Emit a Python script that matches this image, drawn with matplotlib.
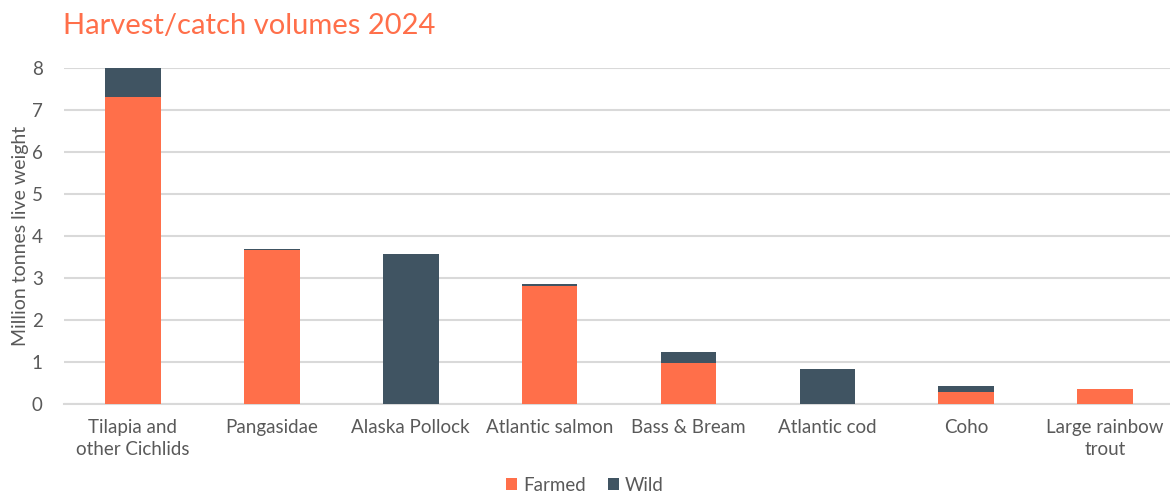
import matplotlib
matplotlib.use("Agg")
import matplotlib.pyplot as plt
import numpy as np

categories = ["Tilapia and\nother Cichlids", "Pangasidae", "Alaska Pollock", "Atlantic salmon",
              "Bass & Bream", "Atlantic cod", "Coho", "Large rainbow\ntrout"]
farmed = [7.31, 3.66, 0.0, 2.82, 0.98, 0.0, 0.29, 0.37]
wild = [0.69, 0.03, 3.57, 0.03, 0.25, 0.83, 0.15, 0.0]
yticks = [0, 1, 2, 3, 4, 5, 6, 7, 8]

plt.rcParams['font.family'] = ['Lato', 'DejaVu Sans']
ORANGE = "#FF6F4A"
DARK = "#405462"
GREY = "#595959"

fig = plt.figure(figsize=(11.7, 4.94), dpi=100)
ax = fig.add_axes([0.0543, 0.182, 0.9496, 0.680])
x = np.arange(len(categories))
ax.bar(x, farmed, width=0.40, color=ORANGE, label="Farmed", zorder=3)
ax.bar(x, wild, width=0.40, bottom=farmed, color=DARK, label="Wild", zorder=3)

ax.set_xlim(-0.5, len(categories) - 0.5)
ax.set_ylim(0, 8)
ax.set_yticks(yticks)
ax.set_xticks(x)
ax.set_xticklabels(categories, fontsize=13.5, color=GREY, linespacing=1.3)
ax.tick_params(axis='y', labelsize=13.5, labelcolor=GREY, length=0, pad=15)
ax.tick_params(axis='x', length=0, pad=11)
ax.grid(axis='y', color="#D9D9D9", linewidth=1.5, zorder=0)
for s in ["top", "right", "left"]:
    ax.spines[s].set_visible(False)
ax.spines["bottom"].set_color("#D9D9D9")
ax.spines["bottom"].set_linewidth(1.5)
ax.set_ylabel("Million tonnes live weight", fontsize=14, color=GREY, labelpad=2)

fig.text(0.0538, 0.948, "Harvest/catch volumes 2024", fontsize=21, color=ORANGE, va="center", ha="left")

leg = fig.legend(loc="center", bbox_to_anchor=(0.5, 0.018), ncol=2, frameon=False,
                 fontsize=13.5, handlelength=0.6, handleheight=0.6, handletextpad=0.3,
                 columnspacing=1.2)
for t in leg.get_texts():
    t.set_color(GREY)

fig.savefig("out.png", dpi=100)
